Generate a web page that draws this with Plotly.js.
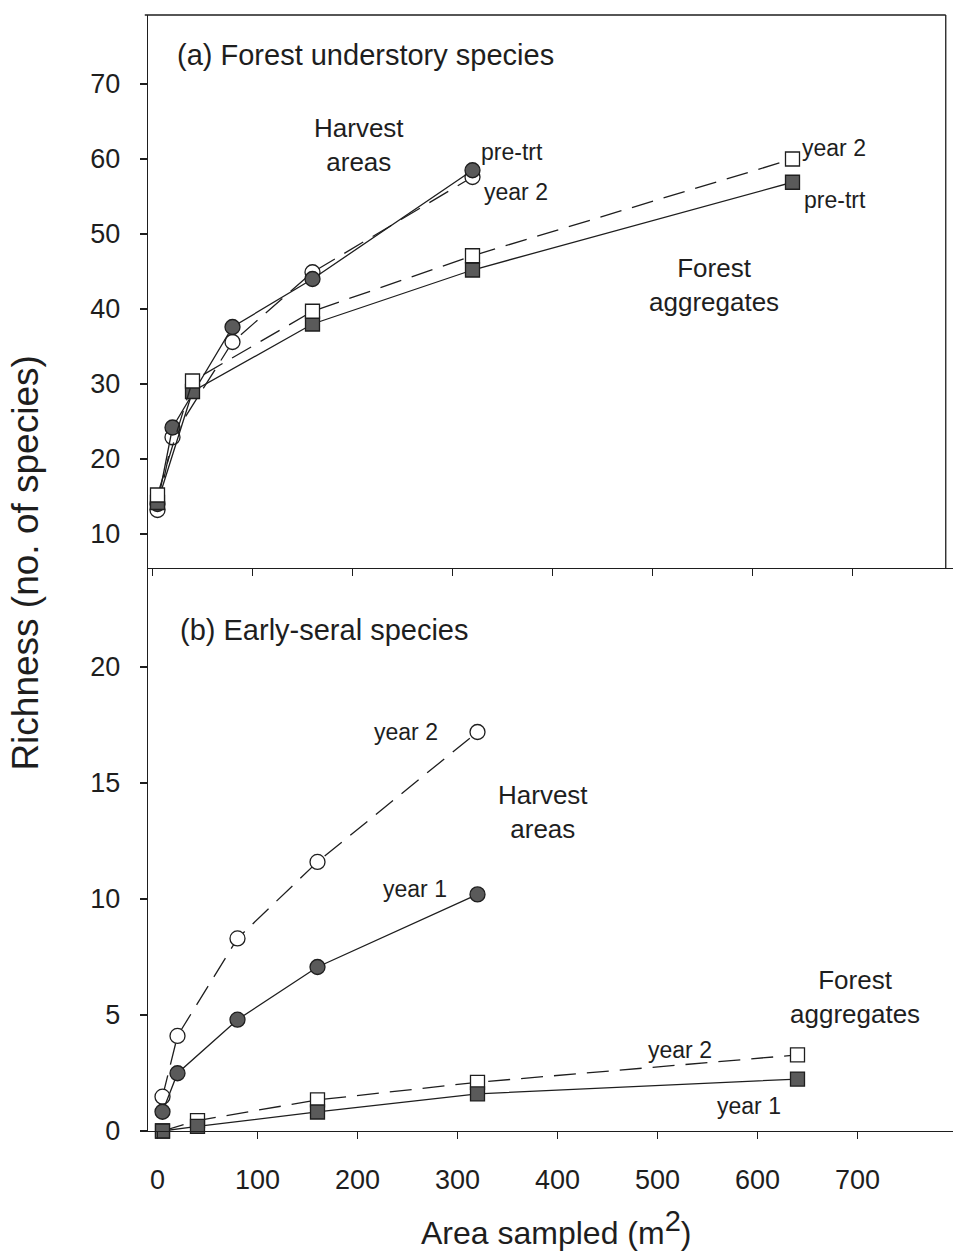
<!DOCTYPE html>
<html>
<head>
<meta charset="utf-8">
<script src="https://cdn.plot.ly/plotly-3.0.1.min.js"></script>
<style>
  html, body { margin: 0; padding: 0; background: #ffffff; }
  #chart { width: 953px; height: 1258px; }
</style>
</head>
<body>
<div id="chart"></div>
<script>
// ---------- data ----------
const areaHarvest = [5, 20, 80, 160, 320];
const areaForest = [5, 40, 160, 320, 640];

// (a) Forest understory species
const harvestPreTrtA = [14.0, 24.2, 37.6, 44.0, 58.5];
const harvestYear2A  = [13.2, 22.9, 35.6, 44.9, 57.6];
const forestPreTrtA  = [14.2, 29.0, 38.0, 45.2, 56.9];
const forestYear2A   = [15.2, 30.4, 39.7, 47.1, 60.0];

// (b) Early-seral species
const harvestYear1B = [0.83, 2.49, 4.8, 7.07, 10.2];
const harvestYear2B = [1.48, 4.1, 8.3, 11.6, 17.2];
const forestYear1B  = [0.0, 0.2, 0.82, 1.6, 2.24];
const forestYear2B  = [0.0, 0.45, 1.34, 2.1, 3.28];

const xTicks = [0, 100, 200, 300, 400, 500, 600, 700];
const yTicksA = [10, 20, 30, 40, 50, 60, 70];
const yTicksB = [0, 5, 10, 15, 20];

// ---------- style ----------
const FONT = "Liberation Sans, Arial, sans-serif";
const INK = "#1e1e1e";
const FILL = "#5a5a5a";
const DASH = "22px,11px";

function tr(x, y, xa, ya, symbol, filled, dashed) {
  return {
    x: x, y: y, xaxis: xa, yaxis: ya, type: "scatter", mode: "lines+markers",
    cliponaxis: false, showlegend: false, hoverinfo: "skip",
    line: { color: INK, width: 1.3, dash: dashed ? DASH : "solid" },
    marker: {
      symbol: symbol, size: symbol === "circle" ? 15 : 14,
      color: filled ? FILL : "#ffffff",
      line: { color: INK, width: 1.3 }
    }
  };
}

const traces = [
  // top panel
  tr(areaHarvest, harvestYear2A, "x2", "y2", "circle", false, true),
  tr(areaHarvest, harvestPreTrtA, "x2", "y2", "circle", true, false),
  tr(areaForest, forestPreTrtA, "x2", "y2", "square", true, false),
  tr(areaForest, forestYear2A, "x2", "y2", "square", false, true),
  // bottom panel
  tr(areaHarvest, harvestYear2B, "x", "y", "circle", false, true),
  tr(areaHarvest, harvestYear1B, "x", "y", "circle", true, false),
  tr(areaForest, forestYear2B, "x", "y", "square", false, true),
  tr(areaForest, forestYear1B, "x", "y", "square", true, false)
];

const axisCommon = {
  showgrid: false, zeroline: false, showline: true,
  linecolor: INK, linewidth: 1.3,
  ticks: "outside", ticklen: 7, tickwidth: 1.2, tickcolor: INK,
  tickfont: { family: FONT, size: 27, color: INK }
};

const SPLIT = 0.5045;

function ann(text, x, y, size, xanchor) {
  return {
    text: text, x: x, y: y, xref: "paper", yref: "paper",
    xanchor: xanchor || "center", yanchor: "middle", showarrow: false,
    font: { family: FONT, size: size, color: INK }
  };
}

const layout = {
  width: 953, height: 1258,
  margin: { l: 148, r: 0, t: 15, b: 127 },
  paper_bgcolor: "#ffffff", plot_bgcolor: "rgba(0,0,0,0)",
  showlegend: false,
  xaxis: Object.assign({}, axisCommon, {
    domain: [0, 1], anchor: "y", range: [-9.5, 795.5],
    tickvals: xTicks, ticktext: xTicks.map(String), ticklabelstandoff: 17
  }),
  xaxis2: Object.assign({}, axisCommon, {
    domain: [0, 1], anchor: "y2", range: [-4.5, 800.5],
    tickvals: xTicks, showticklabels: false
  }),
  yaxis: Object.assign({}, axisCommon, {
    domain: [0, SPLIT], anchor: "x", range: [0, 24.27],
    tickvals: yTicksB, ticktext: yTicksB.map(String), ticklabelstandoff: 14
  }),
  yaxis2: Object.assign({}, axisCommon, {
    domain: [SPLIT, 1], anchor: "x2", range: [5.47, 79.2],
    tickvals: yTicksA, ticktext: yTicksA.map(String), ticklabelstandoff: 14
  }),
  shapes: [
    { type: "line", xref: "paper", yref: "paper", x0: -0.004, x1: 0.991, y0: 1, y1: 1,
      line: { color: INK, width: 1.3 } },
    { type: "line", xref: "paper", yref: "paper", x0: 0.991, x1: 0.991, y0: SPLIT, y1: 1,
      line: { color: INK, width: 1.3 } }
  ],
  annotations: [
    ann("(a) Forest understory species", 0.0335, 0.964, 29, "left"),
    ann("Harvest<br>areas", 0.262, 0.8835, 26),
    ann("pre-trt", 0.452, 0.877, 23),
    ann("year 2", 0.457, 0.841, 23),
    ann("year 2", 0.852, 0.881, 23),
    ann("pre-trt", 0.853, 0.834, 23),
    ann("Forest<br>aggregates", 0.703, 0.758, 26),
    ann("(b) Early-seral species", 0.0373, 0.449, 29, "left"),
    ann("year 2", 0.320, 0.3575, 23),
    ann("Harvest<br>areas", 0.491, 0.286, 26),
    ann("year 1", 0.332, 0.217, 23),
    ann("Forest<br>aggregates", 0.878, 0.120, 26),
    ann("year 2", 0.661, 0.0726, 23),
    ann("year 1", 0.747, 0.0224, 23),
    Object.assign(ann("Richness (no. of species)", -0.152, 0.509, 37), { textangle: -90 }),
    ann("Area sampled (m<sup><span style='font-size:29px'>2</span></sup>)", 0.507, -0.087, 32)
  ]
};

Plotly.newPlot("chart", traces, layout, { staticPlot: true, displayModeBar: false });
</script>
</body>
</html>
